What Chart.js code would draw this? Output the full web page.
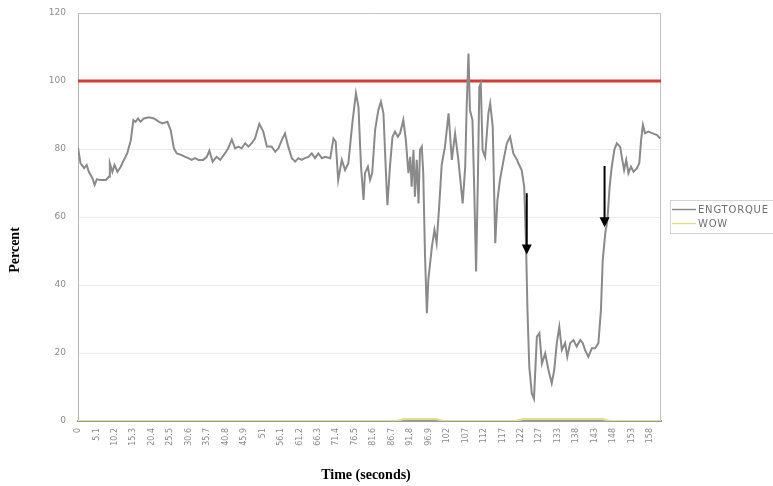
<!DOCTYPE html>
<html>
<head>
<meta charset="utf-8">
<script src="https://cdn.jsdelivr.net/npm/chart.js@4/dist/chart.umd.min.js"></script>
<style>
  html, body { margin: 0; padding: 0; background: #ffffff; }
  #wrap { width: 773px; height: 486px; }
</style>
</head>
<body>
<div id="wrap"><canvas id="chart" width="773" height="486"></canvas></div>
<script>
// Engine torque trace, time in seconds
const timeSeconds = [
  0.0, 0.7, 1.7, 2.4, 3.0, 4.0, 4.6, 5.2, 6.3, 7.7, 8.6, 8.8, 9.5, 10.1, 10.9, 11.8, 12.7, 13.6, 14.6, 15.3,
  15.9, 16.6, 17.3, 18.2, 19.6, 21.0, 22.4, 23.3, 24.7, 25.6, 26.5, 27.3, 28.7, 29.6, 30.5, 31.4, 32.3, 33.3, 34.6, 35.6,
  36.3, 37.2, 38.3, 39.3, 40.6, 41.5, 42.5, 43.4, 44.3, 45.2, 46.2, 47.1, 48.0, 48.9, 50.1, 51.2, 52.2, 53.5, 54.5, 55.4,
  56.3, 57.2, 58.1, 59.1, 60.0, 60.9, 61.8, 62.7, 63.7, 64.6, 65.5, 66.4, 67.4, 68.3, 69.7, 70.6, 71.2, 71.9, 72.9, 73.8,
  74.7, 75.8, 76.8, 77.5, 78.2, 78.9, 79.3, 80.1, 80.7, 81.3, 82.1, 83.0, 83.7, 84.4, 85.1, 85.5, 86.2, 86.9, 87.6, 88.4,
  89.0, 89.9, 90.6, 91.3, 91.8, 92.2, 92.7, 93.1, 93.6, 94.1, 94.5, 95.0, 95.4, 95.9, 96.4, 96.8, 97.8, 98.5, 99.1, 99.8,
  100.5, 101.4, 102.4, 103.3, 104.2, 105.1, 106.3, 107.0, 107.4, 107.9, 108.3, 109.0, 109.5, 110.0, 110.5, 110.9, 111.3, 111.8, 112.5, 113.4,
  113.9, 114.6, 115.3, 115.9, 116.6, 117.6, 118.5, 119.4, 120.3, 121.3, 121.7, 122.6, 123.3, 123.8, 124.2, 124.7, 125.4, 126.0, 126.8, 127.5,
  128.2, 129.1, 130.0, 130.9, 131.6, 132.3, 133.0, 133.7, 134.6, 135.2, 136.0, 136.9, 137.8, 138.8, 139.5, 140.1, 141.0, 142.0, 142.9, 143.8,
  144.5, 145.0, 145.7, 146.3, 146.9, 147.5, 148.2, 148.9, 149.8, 150.4, 150.9, 151.5, 152.1, 152.8, 153.5, 154.4, 155.1, 155.6, 156.1, 156.7,
  157.6, 158.8, 160.0, 160.9
];
const engTorque = [
  80.3, 75.8, 74.4, 75.3, 73.3, 71.4, 69.4, 71.1, 70.9, 70.9, 71.9, 75.8, 73.3, 75.3, 73.3, 74.8, 76.8, 78.7, 82.6, 88.5,
  88.0, 89.0, 88.0, 89.0, 89.3, 89.0, 88.0, 87.5, 88.0, 85.6, 80.2, 78.7, 78.2, 77.7, 77.3, 76.8, 77.3, 76.8, 76.8, 77.7,
  79.5, 76.3, 77.7, 76.8, 78.7, 80.2, 82.8, 80.2, 80.7, 80.2, 81.7, 80.7, 81.7, 83.1, 87.4, 85.1, 80.7, 80.7, 79.2, 80.2,
  82.6, 84.6, 80.7, 77.3, 76.3, 77.3, 76.8, 77.3, 77.7, 78.7, 77.3, 78.7, 77.3, 77.7, 77.3, 83.1, 82.2, 70.9, 76.8, 73.8,
  75.8, 87.5, 96.4, 92.4, 75.0, 65.0, 72.9, 74.8, 70.9, 72.9, 85.6, 91.5, 93.9, 90.5, 72.9, 63.5, 74.8, 83.6, 85.1, 83.6,
  84.6, 88.5, 82.6, 72.9, 77.7, 68.9, 79.7, 66.0, 76.8, 64.0, 79.7, 80.7, 72.9, 48.3, 31.7, 41.5, 51.3, 56.2, 52.3, 63.0,
  75.3, 80.7, 90.5, 76.8, 84.6, 76.8, 64.0, 74.8, 92.4, 108.1, 91.5, 88.5, 67.9, 44.0, 70.9, 98.3, 99.3, 79.7, 77.7, 90.5,
  93.4, 86.6, 52.3, 65.0, 70.9, 76.8, 81.7, 83.6, 78.7, 76.8, 75.8, 73.8, 68.9, 52.3, 32.6, 16.0, 8.1, 6.5, 24.8, 25.8,
  16.9, 19.9, 15.0, 11.1, 15.0, 22.9, 27.7, 20.9, 22.9, 18.9, 22.9, 23.8, 21.9, 23.8, 22.9, 20.9, 18.9, 21.4, 21.4, 22.9,
  32.6, 47.4, 55.2, 59.1, 68.9, 74.8, 79.7, 81.7, 80.7, 76.8, 73.8, 76.8, 72.9, 74.8, 73.3, 74.3, 75.8, 82.6, 87.1, 84.6,
  85.1, 84.6, 84.1, 83.1
];

// Weight-on-wheels flag
const wowTime  = [0, 88.0, 90.0, 99.0, 101.0, 121.0, 123.0, 145.0, 147.0, 161.1];
const wowValue = [0, 0, 0.6, 0.6, 0, 0, 0.6, 0.6, 0, 0];

// Torque limit line
const limitTime  = [0, 161.1];
const limitValue = [100, 100];

// Axis ticks
const xTickValues = [0, 5.1, 10.2, 15.3, 20.4, 25.5, 30.6, 35.7, 40.8, 45.9, 51, 56.1, 61.2, 66.3, 71.4, 76.5,
  81.6, 86.7, 91.8, 96.9, 102, 107.1, 112.2, 117.3, 122.4, 127.5, 132.6, 137.7, 142.8, 147.9, 153, 158.1];
const xTickLabels = ['0', '5.1', '10.2', '15.3', '20.4', '25.5', '30.6', '35.7', '40.8', '45.9', '51', '56.1',
  '61.2', '66.3', '71.4', '76.5', '81.6', '86.7', '91.8', '96.9', '102', '107', '112', '117', '122', '127',
  '133', '138', '143', '148', '153', '158'];
const yTickValues = [0, 20, 40, 60, 80, 100, 120];

// Marker arrows: time, start value, tip value
const arrowTimes = [124.0, 145.5];
const arrowStart = [67, 75];
const arrowTip   = [49, 57];

const toPoints = (xs, ys) => xs.map((x, i) => ({ x: x, y: ys[i] }));

const framePlugin = {
  id: 'frame',
  beforeDatasetsDraw(chart) {
    const { ctx, chartArea: a } = chart;
    ctx.save();
    ctx.strokeStyle = '#c4c4c4';
    ctx.lineWidth = 1;
    ctx.beginPath();
    ctx.moveTo(a.left, a.top + 0.5);
    ctx.lineTo(a.right - 0.5, a.top + 0.5);
    ctx.lineTo(a.right - 0.5, a.bottom);
    ctx.stroke();
    ctx.restore();
  },
  afterDatasetsDraw(chart) {
    const { ctx } = chart;
    const xs = chart.scales.x, ys = chart.scales.y;
    ctx.save();
    ctx.strokeStyle = '#000000';
    ctx.fillStyle = '#000000';
    ctx.lineWidth = 2;
    arrowTimes.forEach((t, i) => {
      const px = xs.getPixelForValue(t);
      const y0 = ys.getPixelForValue(arrowStart[i]);
      const y1 = ys.getPixelForValue(arrowTip[i]);
      ctx.beginPath();
      ctx.moveTo(px, y0);
      ctx.lineTo(px, y1 - 8);
      ctx.stroke();
      ctx.beginPath();
      ctx.moveTo(px - 5, y1 - 10);
      ctx.lineTo(px + 5, y1 - 10);
      ctx.lineTo(px, y1);
      ctx.closePath();
      ctx.fill();
    });
    ctx.restore();
  },
  afterDraw(chart) {
    const { ctx, chartArea: a } = chart;
    ctx.save();
    // axis titles
    ctx.fillStyle = '#000000';
    ctx.font = 'bold 14px "Liberation Serif", "Times New Roman", serif';
    ctx.textAlign = 'center';
    ctx.textBaseline = 'middle';
    ctx.fillText('Time (seconds)', 366, 475);
    ctx.translate(15, 250);
    ctx.rotate(-Math.PI / 2);
    ctx.fillText('Percent', 0, 0);
    ctx.restore();

    // legend
    ctx.save();
    const lx = a.right + 9, ly = 200;
    ctx.strokeStyle = '#d4d4d4';
    ctx.lineWidth = 1;
    ctx.strokeRect(lx + 0.5, ly + 0.5, 120, 33);
    ctx.font = '10px "DejaVu Sans", Verdana, sans-serif';
    ctx.letterSpacing = '0.8px';
    ctx.textAlign = 'left';
    ctx.textBaseline = 'middle';
    let row = 0;
    chart.data.datasets.forEach(ds => {
      if (!ds.label) return;
      const y = ly + 9.5 + row * 14;
      ctx.strokeStyle = ds.borderColor;
      ctx.lineWidth = 1.5;
      ctx.beginPath();
      ctx.moveTo(lx + 2, y);
      ctx.lineTo(lx + 26, y);
      ctx.stroke();
      ctx.fillStyle = '#707070';
      ctx.fillText(ds.label, lx + 28, y + 0.5);
      row++;
    });
    ctx.restore();
  }
};

new Chart(document.getElementById('chart'), {
  type: 'line',
  data: {
    datasets: [
      {
        label: 'ENGTORQUE',
        data: toPoints(timeSeconds, engTorque),
        borderColor: '#8a8a8a',
        borderWidth: 2,
        pointRadius: 0,
        tension: 0
      },
      {
        label: 'WOW',
        data: toPoints(wowTime, wowValue),
        borderColor: '#e2df8c',
        borderWidth: 2,
        pointRadius: 0,
        tension: 0
      },
      {
        label: '',
        data: toPoints(limitTime, limitValue),
        borderColor: '#cf3d36',
        borderWidth: 3,
        pointRadius: 0,
        tension: 0
      }
    ]
  },
  options: {
    responsive: false,
    animation: false,
    devicePixelRatio: 1,
    layout: { padding: { top: 13, right: 112, bottom: 0, left: 0 } },
    plugins: { legend: { display: false }, tooltip: { enabled: false } },
    scales: {
      x: {
        type: 'linear',
        min: 0,
        max: 161.1,
        grid: { display: false, drawTicks: false },
        border: { display: true, color: '#9a9a9a', width: 2 },
        afterBuildTicks: axis => { axis.ticks = xTickValues.map(v => ({ value: v })); },
        afterFit: s => {
          s.height = 65;
          s.paddingTop = 0; s.paddingBottom = 0; s.paddingLeft = 0; s.paddingRight = 0;
        },
        ticks: {
          autoSkip: false,
          minRotation: 90,
          maxRotation: 90,
          padding: 7,
          color: '#8c8c8c',
          font: { family: '"DejaVu Sans", Verdana, sans-serif', size: 8 },
          callback: (v, i) => xTickLabels[i]
        }
      },
      y: {
        min: 0,
        max: 120,
        grid: { color: '#ededed', drawTicks: false },
        border: { display: true, color: '#b4b4b4', width: 1 },
        afterBuildTicks: axis => { axis.ticks = yTickValues.map(v => ({ value: v })); },
        afterFit: s => {
          s.width = 78;
          s.paddingTop = 0; s.paddingBottom = 0; s.paddingLeft = 0; s.paddingRight = 0;
        },
        ticks: {
          padding: 12,
          color: '#8c8c8c',
          font: { family: '"DejaVu Sans", Verdana, sans-serif', size: 9 }
        }
      }
    }
  },
  plugins: [framePlugin]
});
</script>
</body>
</html>
